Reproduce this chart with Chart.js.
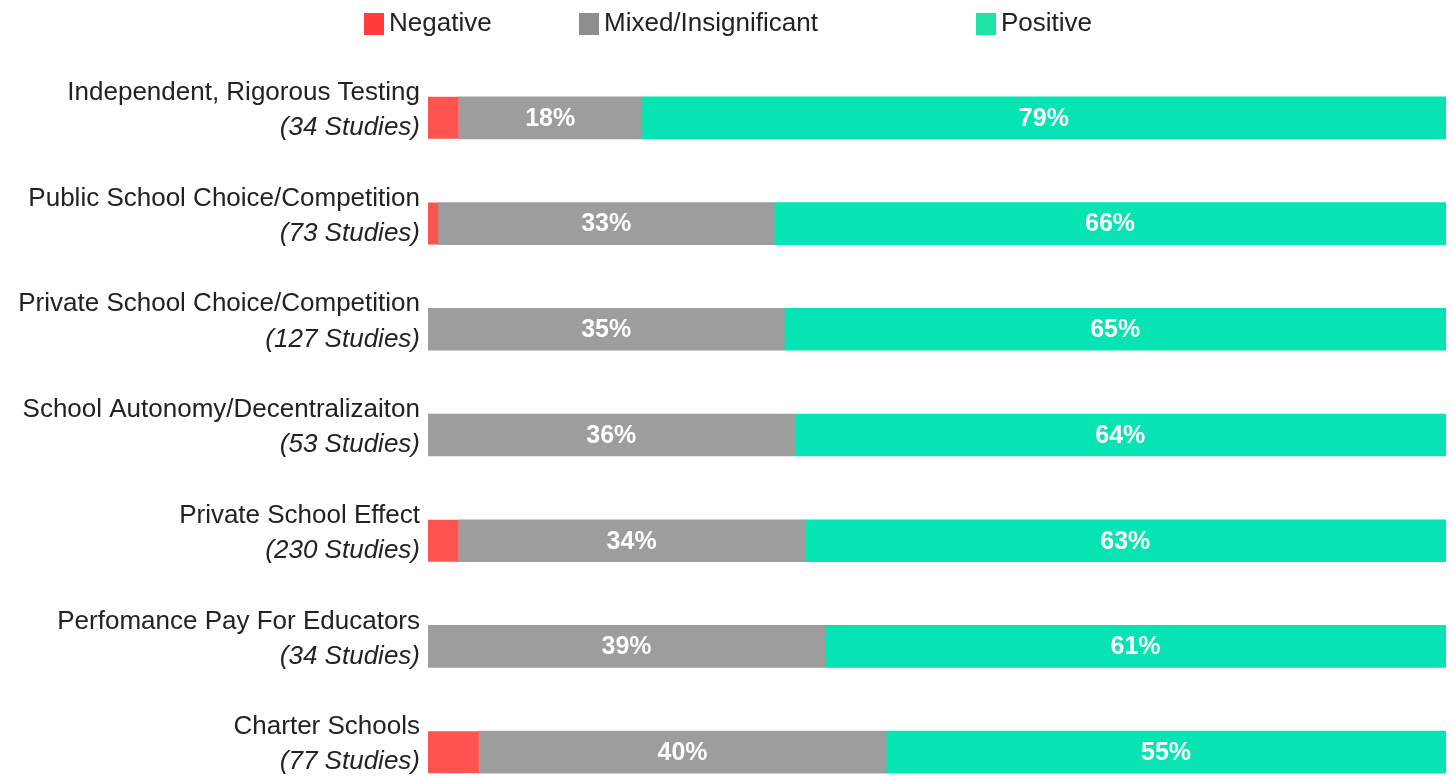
<!DOCTYPE html>
<html>
<head>
<meta charset="utf-8">
<script src="https://cdn.jsdelivr.net/npm/chart.js@4/dist/chart.umd.min.js"></script>
<style>
  html, body { margin: 0; padding: 0; background: #ffffff; overflow: hidden; }
  #wrap { position: relative; width: 1453px; height: 810px; }
</style>
</head>
<body>
<div id="wrap"><canvas id="c"></canvas></div>
<script>
const categories = [
  'Independent, Rigorous Testing',
  'Public School Choice/Competition',
  'Private School Choice/Competition',
  'School Autonomy/Decentralizaiton',
  'Private School Effect',
  'Perfomance Pay For Educators',
  'Charter Schools'
];
const studyCounts = [
  '(34 Studies)',
  '(73 Studies)',
  '(127 Studies)',
  '(53 Studies)',
  '(230 Studies)',
  '(34 Studies)',
  '(77 Studies)'
];
const seriesNames = ['Negative', 'Mixed/Insignificant', 'Positive'];
const negative = [3, 1, 0, 0, 3, 0, 5];
const mixed = [18, 33, 35, 36, 34, 39, 40];
const positive = [79, 66, 65, 64, 63, 61, 55];

const colors = ['#fd5450', '#9d9d9d', '#05e4b2'];
const legendColors = ['#ff3d3d', '#8e8e8e', '#1ee3a6'];

const yLabelPlugin = {
  id: 'yLabels',
  afterDraw(chart) {
    const ctx = chart.ctx;
    const y = chart.scales.y;
    ctx.save();
    ctx.fillStyle = '#222222';
    ctx.textAlign = 'right';
    ctx.textBaseline = 'middle';
    categories.forEach((cat, i) => {
      const cy = y.getPixelForValue(i);
      ctx.font = '26px "Liberation Sans", Arial, sans-serif';
      ctx.fillText(cat, 420, cy - 25);
      ctx.font = 'italic 26px "Liberation Sans", Arial, sans-serif';
      ctx.fillText(studyCounts[i], 420, cy + 10);
    });
    ctx.restore();
  }
};

const valueLabelPlugin = {
  id: 'valueLabels',
  afterDatasetsDraw(chart) {
    const ctx = chart.ctx;
    ctx.save();
    ctx.fillStyle = '#ffffff';
    ctx.textAlign = 'center';
    ctx.textBaseline = 'middle';
    ctx.font = 'bold 25px "Liberation Sans", Arial, sans-serif';
    [1, 2].forEach(di => {
      const meta = chart.getDatasetMeta(di);
      const vals = chart.data.datasets[di].data;
      meta.data.forEach((el, i) => {
        if (!vals[i]) return;
        const cx = (el.x + el.base) / 2;
        ctx.fillText(vals[i] + '%', cx, el.y + 1);
      });
    });
    ctx.restore();
  }
};

const legendPlugin = {
  id: 'customLegend',
  afterDraw(chart) {
    const ctx = chart.ctx;
    const xs = [364, 579, 976];
    ctx.save();
    ctx.textAlign = 'left';
    ctx.textBaseline = 'middle';
    ctx.font = '26px "Liberation Sans", Arial, sans-serif';
    seriesNames.forEach((name, i) => {
      ctx.fillStyle = legendColors[i];
      ctx.fillRect(xs[i], 13, 20, 22);
      ctx.fillStyle = '#222222';
      ctx.fillText(name, xs[i] + 25, 24);
    });
    ctx.restore();
  }
};

new Chart(document.getElementById('c'), {
  type: 'bar',
  data: {
    labels: categories,
    datasets: [
      { label: seriesNames[0], data: negative, backgroundColor: colors[0], inflateAmount: 0 },
      { label: seriesNames[1], data: mixed, backgroundColor: colors[1] },
      { label: seriesNames[2], data: positive, backgroundColor: colors[2] }
    ]
  },
  options: {
    indexAxis: 'y',
    responsive: true,
    maintainAspectRatio: false,
    animation: false,
    layout: { padding: { left: 428, right: 7, top: 65, bottom: 5 } },
    datasets: { bar: { barThickness: 42, borderWidth: 0 } },
    scales: {
      x: { stacked: true, min: 0, max: 100, display: false },
      y: { stacked: true, display: false }
    },
    plugins: {
      legend: { display: false },
      tooltip: { enabled: false }
    }
  },
  plugins: [yLabelPlugin, valueLabelPlugin, legendPlugin]
});
</script>
</body>
</html>
